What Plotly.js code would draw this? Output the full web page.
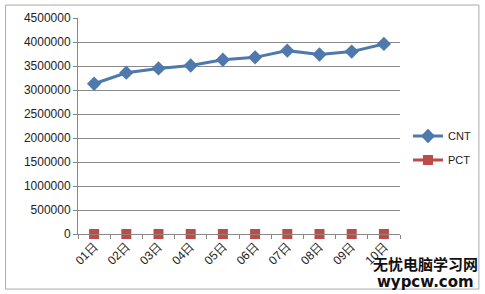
<!DOCTYPE html>
<html><head><meta charset="utf-8">
<script src="https://cdn.plot.ly/plotly-3.0.1.min.js"></script>
<style>html,body{margin:0;padding:0;background:#fff;}#c{width:485px;height:294px;}</style>
</head><body><div id="c"></div>
<script>
const categories = ["01日","02日","03日","04日","05日","06日","07日","08日","09日","10日"];
const cnt = [3130000,3360000,3450000,3510000,3630000,3680000,3820000,3740000,3800000,3960000];
const pct = [0,0,0,0,0,0,0,0,0,0];
const yTicks = [0,500000,1000000,1500000,2000000,2500000,3000000,3500000,4000000,4500000];

const blue = "#4F79AD", red = "#BE4B48";
const traces = [
  {x: categories, y: cnt, name: "CNT", type: "scatter", mode: "lines+markers", legendgroup: "a",
   line: {color: blue, width: 3}, marker: {symbol: "diamond", size: 11, color: blue}},
  {x: categories, y: pct, name: "PCT", type: "scatter", mode: "markers", showlegend: false,
   marker: {symbol: "square", size: 10, color: red}, cliponaxis: false},
  {x: [null], y: [null], name: "PCT", type: "scatter", mode: "lines+markers", legendgroup: "b",
   line: {color: red, width: 3}, marker: {symbol: "square", size: 10, color: red}}
];
const layout = {
  width: 485, height: 294,
  margin: {l: 78, r: 85, t: 18, b: 60},
  paper_bgcolor: "#fff", plot_bgcolor: "#fff",
  font: {family: "Liberation Sans, DejaVu Sans, sans-serif", size: 11, color: "#222"},
  showlegend: true,
  legend: {xref: "container", yref: "container", x: 408/485, y: 1 - 148/294, xanchor: "left", yanchor: "middle",
           font: {size: 11, color: "#222"}, tracegroupgap: 5, itemwidth: 30, bgcolor: "rgba(0,0,0,0)"},
  xaxis: {type: "category", range: [-0.5, 9.5], tickangle: -45, showgrid: false,
          showline: true, linecolor: "#888", linewidth: 1, ticks: "outside", ticklen: 4,
          tickcolor: "#888", tickson: "boundaries", tickfont: {size: 12, color: "#222"}, zeroline: false},
  yaxis: {range: [0, 4500000], tickvals: yTicks, ticktext: yTicks.map(String), showgrid: true,
          gridcolor: "#8a8a8a", gridwidth: 1, showline: true, linecolor: "#888", ticks: "outside",
          ticklen: 4, tickcolor: "#888", zeroline: false, tickfont: {size: 12, color: "#222"}},
  shapes: [
    {type: "rect", xref: "paper", yref: "paper", x0: -0.225, x1: 1.245, y0: -0.255, y1: 1.06,
     line: {color: "#aaa", width: 1}}
  ],
  annotations: [
    {xref: "paper", yref: "paper", x: 1.078, y: -0.138, xanchor: "center", yanchor: "middle",
     text: "<b>无忧电脑学习网</b>", showarrow: false,
     font: {family: "Noto Sans CJK SC", size: 15, color: "#111"}},
    {xref: "paper", yref: "paper", x: 1.078, y: -0.222, xanchor: "center", yanchor: "middle",
     text: "<b>wypcw.com</b>", showarrow: false,
     font: {family: "DejaVu Sans", size: 15, color: "#111"}}
  ]
};
Plotly.newPlot("c", traces, layout, {displayModeBar: false, staticPlot: true});
</script></body></html>
